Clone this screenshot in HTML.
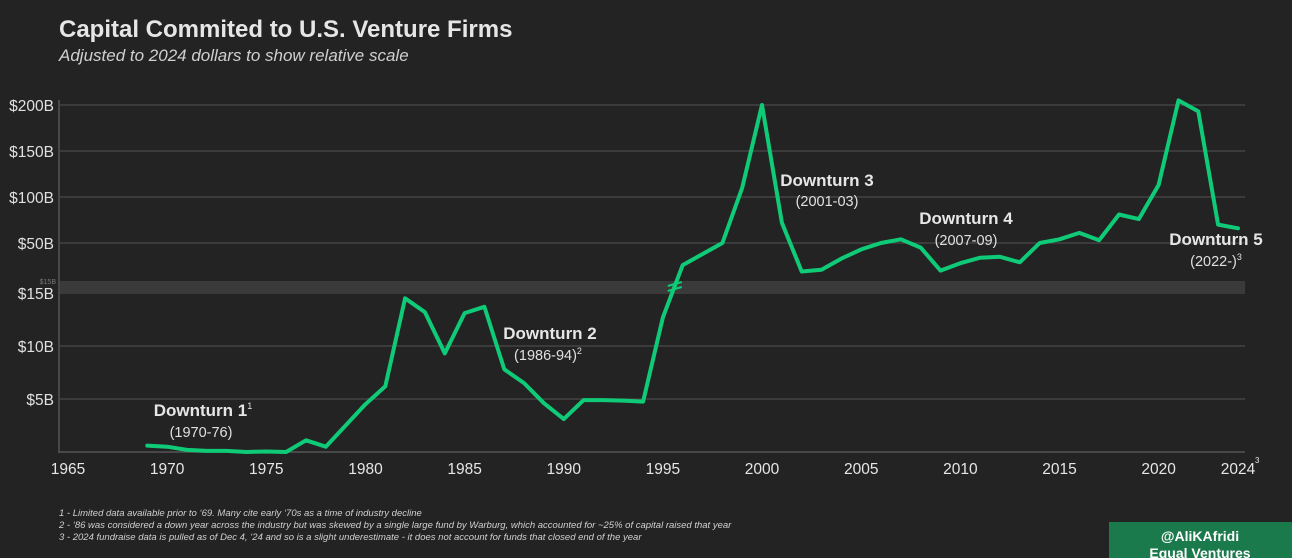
<!DOCTYPE html>
<html><head><meta charset="utf-8"><style>
html,body{margin:0;padding:0;background:#232323;}
body{width:1292px;height:558px;overflow:hidden;position:relative;font-family:"Liberation Sans",sans-serif;}
</style></head><body>
<svg id="chart" width="1292" height="558" xmlns="http://www.w3.org/2000/svg" style="position:absolute;left:0;top:0">
<rect width="1292" height="558" fill="#232323"/>
<text x="59" y="37" fill="#e6e6e6" font-size="24" font-weight="bold">Capital Commited to U.S. Venture Firms</text>
<text x="59" y="61" fill="#cfcfcf" font-size="17" font-style="italic">Adjusted to 2024 dollars to show relative scale</text>
<g id="grid"></g><g id="axes"></g><g id="series"></g><g id="ann"></g>
<g fill="#d0d0d0" font-size="9.5" font-style="italic">
<text x="59" y="516">1 - Limited data available prior to ‘69. Many cite early ‘70s as a time of industry decline</text>
<text x="59" y="528">2 - ‘86 was considered a down year across the industry but was skewed by a single large fund by Warburg, which accounted for ~25% of capital raised that year</text>
<text x="59" y="540">3 - 2024 fundraise data is pulled as of Dec 4, ‘24 and so is a slight underestimate - it does not account for funds that closed end of the year</text>
</g>
<g>
<rect x="1109" y="522" width="183" height="36" fill="#1a7a4c"/>
<text x="1200" y="541" fill="#fff" font-size="14" font-weight="bold" text-anchor="middle">@AliKAfridi</text>
<text x="1200" y="558" fill="#fff" font-size="14" font-weight="bold" text-anchor="middle">Equal Ventures</text>
</g>
</svg>
<script>
const years=[1969,1970,1971,1972,1973,1974,1975,1976,1977,1978,1979,1980,1981,1982,1983,1984,1985,1986,1987,1988,1989,1990,1991,1992,1993,1994,1995,1996,1997,1998,1999,2000,2001,2002,2003,2004,2005,2006,2007,2008,2009,2010,2011,2012,2013,2014,2015,2016,2017,2018,2019,2020,2021,2022,2023,2024];
const values=[0.6,0.5,0.2,0.1,0.1,0,0.05,0,1.1,0.5,2.5,4.5,6.2,14.5,13.2,9.3,13.1,13.7,7.8,6.5,4.6,3.1,4.9,4.9,4.85,4.75,12.7,26,38,50,110,200,72,19,21,33,43,50,54,45,20,28,34,35,29,50,54,61,53,81,76,113,205,193,70,66];
const lowerTicks=[5,10,15];
const upperTicks=[50,100,150,200];
const xTicks=[1965,1970,1975,1980,1985,1990,1995,2000,2005,2010,2015,2020,2024];
const NS="http://www.w3.org/2000/svg";
const X=y=>68+(y-1965)*19.83;
const yLow=v=>452-v*10.6;
const yUp=v=>243-(v-50)*0.92;
const Y=(v,yr)=> yr>=1996 ? yUp(v) : yLow(v);
function mk(tag,attrs,parent,txt){const e=document.createElementNS(NS,tag);for(const k in attrs)e.setAttribute(k,attrs[k]);if(txt!==undefined)e.textContent=txt;parent.appendChild(e);return e;}
const grid=document.getElementById('grid'),axes=document.getElementById('axes'),series=document.getElementById('series'),ann=document.getElementById('ann');
const band=mk('rect',{x:60,y:281,width:1185,height:13,fill:'#3a3a3a'},grid);


mk('text',{x:56,y:284,fill:'#777','font-size':7,'text-anchor':'end'},grid,'$15B');
lowerTicks.forEach(v=>{
  const y=yLow(v);
  if(v<15){const l=mk('line',{x1:60,x2:1245,y1:y,y2:y,stroke:'#4a4a4a','stroke-width':1.3},grid);
  
  }
  const t=mk('text',{x:54,y:y+6,fill:'#e0e0e0','font-size':15.5,'text-anchor':'end'},axes,'$'+v+'B');
  
  
});
upperTicks.forEach(v=>{
  const y=yUp(v);
  const l=mk('line',{x1:60,x2:1245,y1:y,y2:y,stroke:'#4a4a4a','stroke-width':1.3},grid);
  
  
  const t=mk('text',{x:54,y:y+6,fill:'#e0e0e0','font-size':15.5,'text-anchor':'end'},axes,'$'+v+'B');
  
  
});
mk('line',{x1:59,x2:59,y1:100,y2:453,stroke:'#555','stroke-width':1.5},axes);
mk('line',{x1:59,x2:1245,y1:452,y2:452,stroke:'#555','stroke-width':1.5},axes);
xTicks.forEach(yr=>{
  const t=mk('text',{x:X(yr),y:474,fill:'#e6e6e6','font-size':15.5,'text-anchor':'middle'},axes,String(yr));
  
  
});
mk('text',{x:1255,y:463,fill:'#e6e6e6','font-size':8},axes,'3');
const pts=years.map((yr,i)=>X(yr).toFixed(1)+','+Y(values[i],yr).toFixed(1)).join(' ');
const line=mk('polyline',{points:pts,fill:'none',stroke:'#0fcb78','stroke-width':4,'stroke-linejoin':'round','stroke-linecap':'round'},series);


const bx=X(1995.6),by=288;
mk('line',{x1:bx-7,y1:by-2,x2:bx+7,y2:by-6,stroke:'#0fcb78','stroke-width':2},series);
mk('line',{x1:bx-7,y1:by+3,x2:bx+7,y2:by-1,stroke:'#0fcb78','stroke-width':2},series);
// [title, titleSup, tx, ty, sub, subSup, sx, sy]
const anns=[['Downturn 1','1',203,416,'(1970-76)','',201,437],['Downturn 2','',550,339,'(1986-94)','2',548,360],['Downturn 3','',827,186,'(2001-03)','',827,206],['Downturn 4','',966,224,'(2007-09)','',966,245],['Downturn 5','',1216,245,'(2022-)','3',1216,266]];
anns.forEach(a=>{
  const g=mk('g',{},ann);
  
  
  const t=mk('text',{x:a[2],y:a[3],fill:'#e6e6e6','font-size':17,'font-weight':'bold','text-anchor':'middle'},g,a[0]);
  if(a[1])mk('tspan',{'font-size':9,dy:-7,'font-weight':'normal'},t,a[1]);
  const s=mk('text',{x:a[6],y:a[7],fill:'#e0e0e0','font-size':14.5,'text-anchor':'middle'},g,a[4]);
  if(a[5])mk('tspan',{'font-size':9,dy:-6},s,a[5]);
});
</script>
</body></html>
